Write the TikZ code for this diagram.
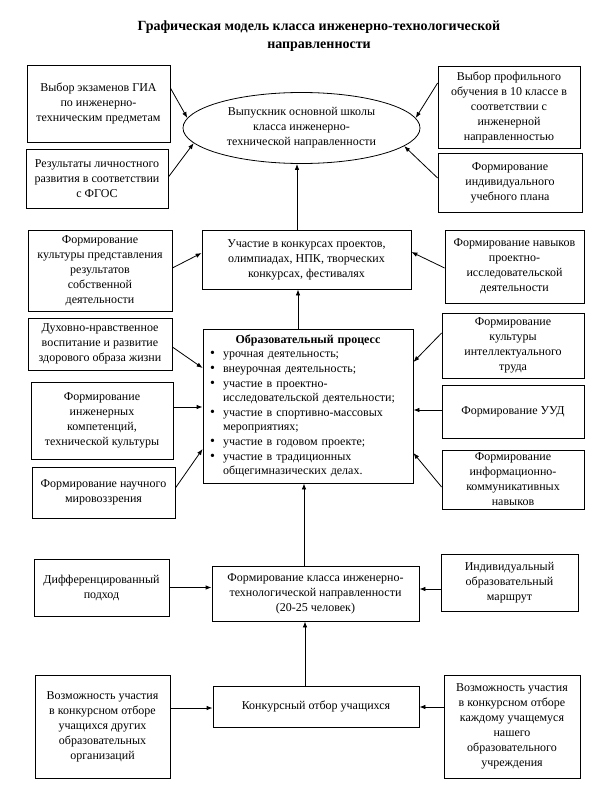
\documentclass[tikz,border=0pt]{standalone}
\usepackage{fontspec}
\setmainfont{Liberation Serif}
\usetikzlibrary{arrows.meta,shapes.geometric}
\newcommand\bitem[1]{\par\noindent\hangindent=18pt\hangafter=1\makebox[18pt][l]{\hspace{5pt}{\fontsize{14pt}{14pt}\selectfont\textbullet}}#1}
\begin{document}
\begin{tikzpicture}[x=1pt,y=-1pt,
  every node/.style={font=\fontsize{12pt}{15pt}\selectfont},
  box/.style={draw, line width=0.8pt, rectangle, align=center, inner sep=1pt},
  arr/.style={line width=0.8pt, -{Latex[length=6pt,width=4.5pt]}},
]
\fill[white] (0,0) rectangle (590,808);
\useasboundingbox (0,0) rectangle (590,808);

% title
\node[align=center, font=\fontsize{14pt}{18pt}\selectfont\bfseries] (title) at (319,36)
  {Графическая модель класса инженерно-технологической\\направленности};

% top level
\node[draw, line width=0.8pt, ellipse, align=center, inner sep=0pt, minimum width=237pt, minimum height=71pt] (ell) at (301.5,128)
  {Выпускник основной школы\\класса инженерно-\\технической направленности};
\node[box, minimum width=143pt, minimum height=77pt] (b1) at (98.5,103.5)
  {Выбор экзаменов ГИА\\по инженерно-\\техническим предметам};
\node[box, minimum width=142pt, minimum height=59pt] (b2) at (97,178.5)
  {Результаты личностного\\развития в соответствии\\с ФГОС};
\node[box, minimum width=142pt, minimum height=82pt] (b3) at (509,107)
  {Выбор профильного\\обучения в 10 классе в\\соответствии с\\инженерной\\направленностью};
\node[box, minimum width=144pt, minimum height=59pt] (b4) at (510,182.5)
  {Формирование\\индивидуального\\учебного плана};

% second level
\node[box, minimum width=209pt, minimum height=59pt] (u) at (306.5,259.5)
  {Участие в конкурсах проектов,\\олимпиадах, НПК, творческих\\конкурсах, фестивалях};
\node[box, minimum width=144pt, minimum height=81pt] (l1) at (100,270.5)
  {Формирование\\культуры представления\\результатов\\собственной\\деятельности};
\node[box, minimum width=139pt, minimum height=73pt] (r1) at (514.5,266.5)
  {Формирование навыков\\проектно-\\исследовательской\\деятельности};

% education process
\node[draw, line width=0.8pt, rectangle, inner sep=2pt, text width=206pt, minimum height=154pt,
  font=\fontsize{12pt}{14.6pt}\selectfont] (op) at (308,406)
  {{\centering\textbf{Образовательный процесс}\par}\raggedright
   \bitem{урочная деятельность;}
   \bitem{внеурочная деятельность;}
   \bitem{участие в проектно-\newline исследовательской деятельности;}
   \bitem{участие в спортивно-массовых\newline мероприятиях;}
   \bitem{участие в годовом проекте;}
   \bitem{участие в традиционных\newline общегимназических делах.}\par};
\node[box, minimum width=144pt, minimum height=52pt] (l2) at (100,344)
  {Духовно-нравственное\\воспитание и развитие\\здорового образа жизни};
\node[box, minimum width=142pt, minimum height=77pt] (l3) at (102,420.5)
  {Формирование\\инженерных\\компетенций,\\технической культуры};
\node[box, minimum width=143pt, minimum height=51pt] (l4) at (103.5,492.5)
  {Формирование научного\\мировоззрения};
\node[box, minimum width=142pt, minimum height=65pt] (r2) at (513,345.5)
  {Формирование\\культуры\\интеллектуального\\труда};
\node[box, minimum width=142pt, minimum height=53pt] (r3) at (513,411.5)
  {Формирование УУД};
\node[box, minimum width=142pt, minimum height=59pt] (r4) at (513,479.5)
  {Формирование\\информационно-\\коммуникативных\\навыков};

% bottom
\node[box, minimum width=207pt, minimum height=55pt] (k) at (315.5,593.5)
  {Формирование класса инженерно-\\технологической направленности\\(20-25 человек)};
\node[box, minimum width=135pt, minimum height=57pt] (d) at (101.5,587.5)
  {Дифференцированный\\подход};
\node[box, minimum width=137pt, minimum height=57pt] (i) at (509.5,582.5)
  {Индивидуальный\\образовательный\\маршрут};
\node[box, minimum width=206pt, minimum height=41pt] (ks) at (316,706.5)
  {Конкурсный отбор учащихся};
\node[box, minimum width=135pt, minimum height=103pt] (v1) at (102.5,726.5)
  {Возможность участия\\в конкурсном отборе\\учащихся других\\образовательных\\организаций};
\node[box, minimum width=136pt, minimum height=103pt] (v2) at (512,726.5)
  {Возможность участия\\в конкурсном отборе\\каждому учащемуся\\нашего\\образовательного\\учреждения};

% arrows to ellipse
\draw[arr] ([yshift=15.5pt]b1.east) -- (ell.175);
\draw[arr] ([yshift=1.5pt]b2.east) -- (ell.188);
\draw[arr] ([yshift=24pt]b3.west) -- (ell.5);
\draw[arr] ([yshift=4.5pt]b4.west) -- (ell.350);
\draw[arr] ([xshift=-9.5pt]u.north) -- ([xshift=-9.5pt]u.north |- ell.south);

% arrows to u
\draw[arr] ([yshift=2.5pt]l1.east) -- ([yshift=6.5pt]u.west);
\draw[arr] ([yshift=-1.5pt]r1.west) -- ([yshift=7.5pt]u.east);
\draw[arr] ([xshift=-10pt]op.north) -- ([xshift=-10pt]op.north |- u.south);

% arrows to op
\draw[arr] ([yshift=-3pt]l2.east) -- ([yshift=38pt]op.west);
\draw[arr] ([yshift=13.5pt]l3.east) -- ([yshift=13.5pt]l3.east -| op.west);
\draw[arr] ([yshift=4.5pt]l4.east) -- ([yshift=-43pt]op.west);
\draw[arr] ([yshift=12.5pt]r2.west) -- ([yshift=44pt]op.east);
\draw[arr] ([yshift=1.5pt]r3.west) -- ([yshift=1.5pt]r3.west -| op.east);
\draw[arr] ([yshift=-7.5pt]r4.west) -- ([yshift=-47pt]op.east);
\draw[arr] ([xshift=-11.5pt]k.north) -- ([xshift=-11.5pt]k.north |- op.south);

% arrows to k
\draw[arr] (d.east) -- (d.east -| k.west);
\draw[arr] ([yshift=-6.5pt]i.west) -- ([yshift=-6.5pt]i.west -| k.east);
\draw[arr] ([xshift=-11pt]ks.north) -- ([xshift=-11pt]ks.north |- k.south);

% arrows to ks
\draw[arr] ([yshift=18.5pt]v1.east) -- ([yshift=18.5pt]v1.east -| ks.west);
\draw[arr] ([yshift=19.5pt]v2.west) -- ([yshift=19.5pt]v2.west -| ks.east);
\end{tikzpicture}
\end{document}
